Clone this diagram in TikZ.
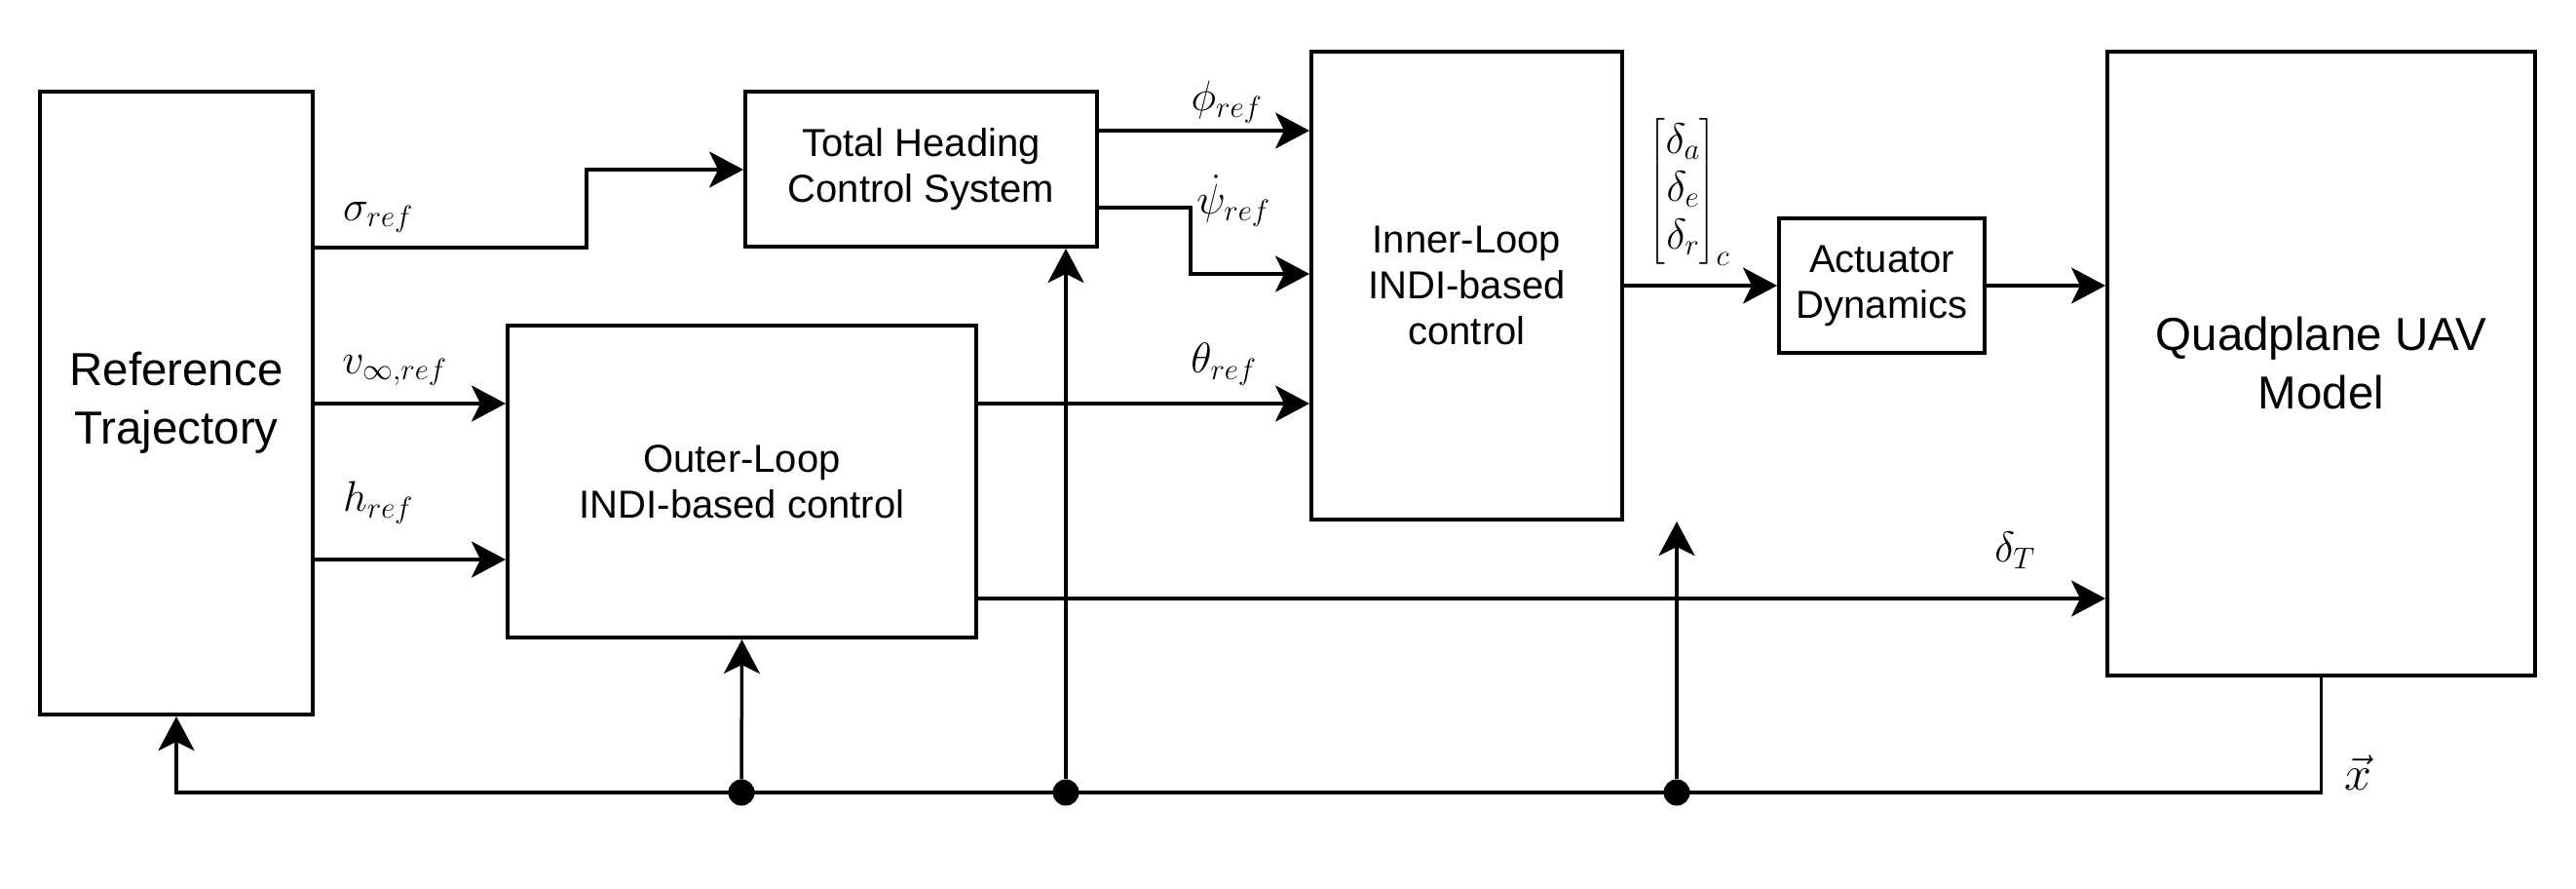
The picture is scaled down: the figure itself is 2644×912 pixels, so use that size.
\RequirePackage{fix-cm}
\documentclass[tikz,border=0pt]{standalone}
\usepackage{amsmath}
\usepackage{fontspec}
\setmainfont{Liberation Sans}
\usetikzlibrary{arrows.meta}
\begin{document}
\begin{tikzpicture}[x=1pt,y=-1pt,
  blk/.style={draw,line width=4pt,inner sep=0pt,align=center,font=\fontsize{40}{47}\selectfont},
  bigblk/.style={blk,font=\fontsize{47.5}{60}\selectfont},
  arr/.style={line width=3.5pt,-{Stealth[length=35pt,width=37pt,inset=9pt]}},
  lab/.style={inner sep=0pt,font=\fontsize{44}{49}\selectfont},
  dot/.style={circle,fill=black,inner sep=0pt,minimum size=27pt}]
\useasboundingbox (0,0) rectangle (2644,912);
% blocks
\node[bigblk,minimum width=280pt,minimum height=639pt] (ref) at (181,413.5) {Reference\\Trajectory};
\node[blk,minimum width=361pt,minimum height=159pt] (th) at (945.5,173.5) {Total Heading\\Control System};
\node[blk,minimum width=481pt,minimum height=320pt] (outer) at (761.5,494) {Outer-Loop\\INDI-based control};
\node[blk,minimum width=319pt,minimum height=480pt] (inner) at (1505.5,293) {Inner-Loop\\INDI-based\\control};
\node[blk,minimum width=211pt,minimum height=138pt] (act) at (1931.5,293) {Actuator\\Dynamics};
\node[bigblk,minimum width=439pt,minimum height=640pt] (quad) at (2382.5,373) {Quadplane UAV\\Model};
% feedback points
\coordinate (fb) at (181,813);
\coordinate (tip3) at (1721,535);
\node[dot] (d1) at (761,813) {};
\node[dot] (d2) at (1094,813) {};
\node[dot] (d3) at (1721,813) {};
% connectors
\draw[arr] (ref.east |- 0,254) -- (602,254) -- (602,174) -- (th.west |- 0,174);
\draw[arr] (ref.east |- 0,414) -- (outer.west |- 0,414);
\draw[arr] (ref.east |- 0,574) -- (outer.west |- 0,574);
\draw[arr] (th.east |- 0,134) -- (inner.west |- 0,134);
\draw[arr] (th.east |- 0,213) -- (1222,213) -- (1222,281) -- (inner.west |- 0,281);
\draw[arr] (outer.east |- 0,414) -- (inner.west |- 0,414);
\draw[arr] (outer.east |- 0,614) -- (quad.west |- 0,614);
\draw[arr] (inner.east) -- (act.west);
\draw[arr] (act.east) -- (quad.west |- act.east);
\draw[arr] (quad.south) |- (fb) -- (ref.south);
\draw[arr] (d1) -- (outer.south);
\draw[arr] (d2) -- (d2 |- th.south);
\draw[arr] (d3) -- (tip3);
% labels
\node[lab] (lsig) at (388,223) {$\sigma_{ref}$};
\node[lab] (lv) at (405,380) {$v_{\infty,ref}$};
\node[lab] (lh) at (388,516) {$h_{ref}$};
\node[lab] (lphi) at (1259,105) {$\phi_{ref}$};
\node[lab] (lpsi) at (1266,206) {$\dot{\psi}_{ref}$};
\node[lab] (ltheta) at (1256,374) {$\theta_{ref}$};
\node[lab] (ldT) at (2068,565) {$\delta_T$};
\node[lab] (lmat) at (1734,197) {$\begin{bmatrix}\delta_a\\ \delta_e\\ \delta_r\end{bmatrix}_c$};
\node[lab,font=\fontsize{50}{60}\selectfont] (lx) at (2420,793) {$\vec{x}$};
\end{tikzpicture}
\end{document}
